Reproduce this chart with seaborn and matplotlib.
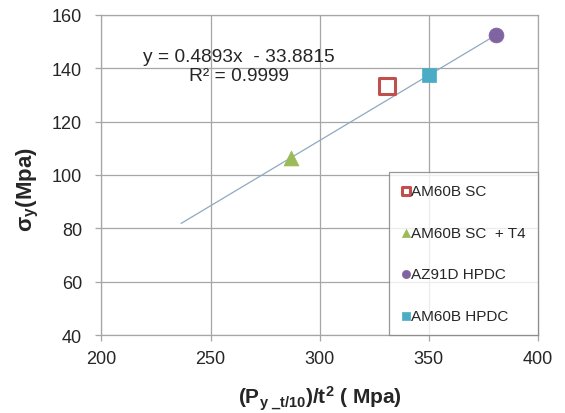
import numpy as np
import pandas as pd
import matplotlib
matplotlib.use("Agg")
import matplotlib.pyplot as plt
import seaborn as sns

# data
labels = ["AM60B SC", "AM60B SC  + T4", "AZ91D HPDC", "AM60B HPDC"]
x_vals = [330.7, 286.8, 380.9, 350.0]
y_vals = [133.3, 106.3, 152.6, 137.5]
colors = ["#C0504D", "#9BBB59", "#8064A2", "#4BACC6"]
markers = ["s", "^", "o", "s"]

slope = 0.4893
intercept = -33.8815
r2 = 0.9999
trend_x = [236.5, 383.0]

sns.set_style("white")
plt.rcParams["font.family"] = ["Liberation Sans", "DejaVu Sans"]
plt.rcParams["mathtext.fontset"] = "custom"
plt.rcParams["mathtext.rm"] = "Liberation Sans"
plt.rcParams["mathtext.bf"] = "Liberation Sans:bold"
plt.rcParams["mathtext.it"] = "Liberation Sans:italic"

fig = plt.figure(figsize=(5.65, 4.14), dpi=100)
ax = fig.add_axes([0.1796, 0.1884, 0.772, 0.773])

df_trend = pd.DataFrame({"x": trend_x})
df_trend["y"] = slope * df_trend["x"] + intercept
sns.lineplot(data=df_trend, x="x", y="y", ax=ax, color="#8EA9C1", lw=0.9, zorder=2)

for lab, xv, yv, c, m in zip(labels, x_vals, y_vals, colors, markers):
    d = pd.DataFrame({"x": [xv], "y": [yv]})
    if lab == "AM60B SC":
        sns.scatterplot(data=d, x="x", y="y", ax=ax, marker=m, s=120,
                        facecolor="white", edgecolor=c, linewidth=2.2,
                        label=lab, zorder=3)
    else:
        sns.scatterplot(data=d, x="x", y="y", ax=ax, marker=m, s=115,
                        color=c, edgecolor=c, linewidth=0.5,
                        label=lab, zorder=3)

ax.set_xlim(200, 400)
ax.set_ylim(40, 160)
ax.set_xticks(np.arange(200, 401, 50))
ax.set_yticks(np.arange(40, 161, 20))
ax.grid(True, color="#A6A6A6", lw=0.9)
ax.set_axisbelow(True)
for sp in ax.spines.values():
    sp.set_color("#A6A6A6")
    sp.set_linewidth(0.9)
ax.tick_params(axis="both", labelsize=13, length=4, width=0.9,
               color="#A6A6A6", direction="out", bottom=True, left=True)
ax.tick_params(axis="y", pad=10)
ax.tick_params(axis="x", pad=7)

ax.set_xlabel(r"$\mathbf{(P_{y\ \_t/10})/t^{2}\ (\ Mpa)}$", fontsize=15, labelpad=12)
ax.set_ylabel(r"$\mathbf{\sigma_{y}(Mpa)}$", fontsize=16)
ax.yaxis.set_label_coords(-0.139, 0.456)

ax.text(0.315, 0.84, f"y = {slope}x  - {abs(intercept)}\nR² = {r2}",
        transform=ax.transAxes, ha="center", va="center", fontsize=13.8,
        linespacing=1.12, color="#262626")

handles, lbls = ax.get_legend_handles_labels()
leg = ax.legend(handles[-4:], lbls[-4:], loc="lower right", bbox_to_anchor=(1.0, 0.0),
                borderaxespad=0, frameon=True, fancybox=False, fontsize=11,
                labelspacing=1.8, handletextpad=0.0, handlelength=0.6,
                markerscale=0.55, borderpad=0.8)
leg.get_frame().set_edgecolor("#7F7F7F")
leg.get_frame().set_linewidth(0.9)

fig.savefig("out.png", dpi=100)
